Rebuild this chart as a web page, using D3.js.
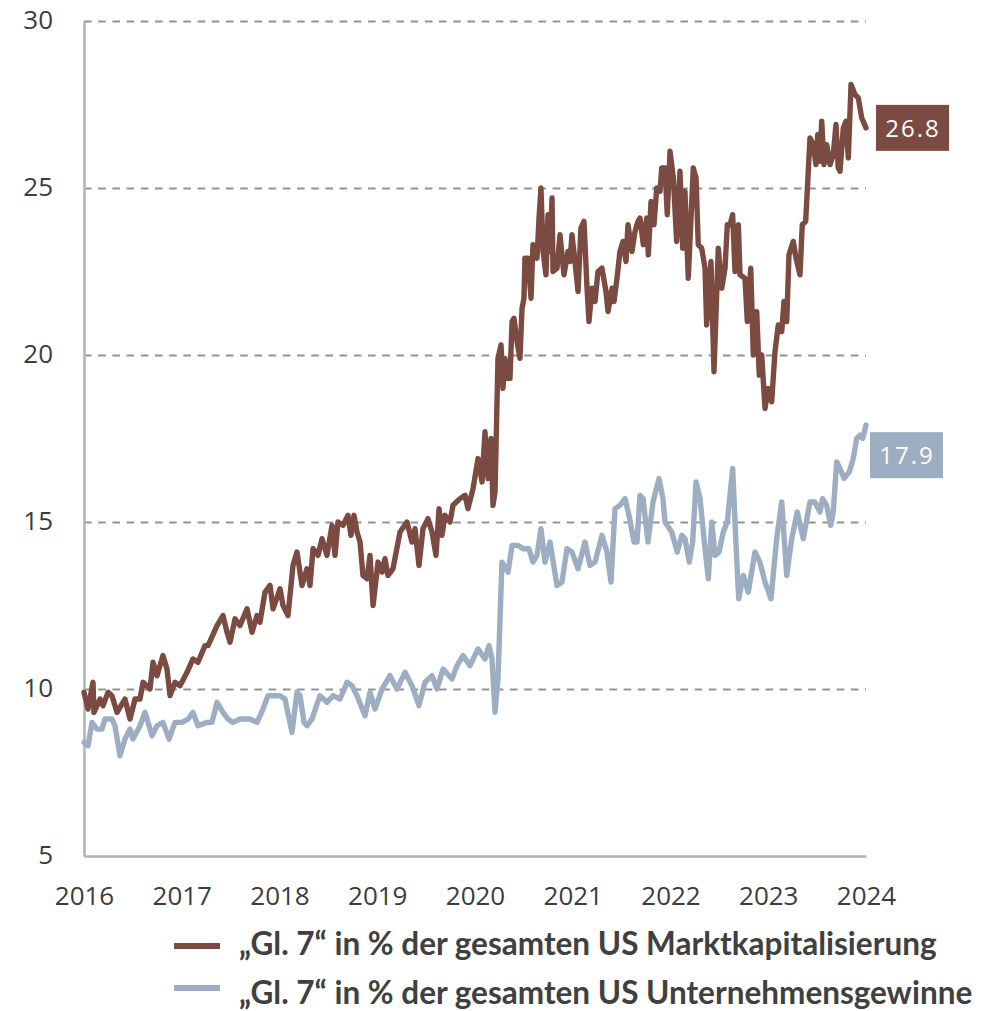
<!DOCTYPE html>
<html>
<head>
<meta charset="utf-8">
<script src="https://cdn.jsdelivr.net/npm/d3@7"></script>
<style>
  body { margin: 0; background: #fff; }
  svg { display: block; font-family: "Open Sans", sans-serif; }
  .axis text { fill: #3c3c3c; font-size: 26px; font-family: "Open Sans", sans-serif; }
  .axis .domain { stroke: #b3b3b3; stroke-width: 2.5px; }
  .grid line { stroke: #939393; stroke-width: 2.2px; stroke-dasharray: 7.6,6.6; }
  .grid .domain { display: none; }
  .legend text { fill: #404040; font-size: 31.5px; font-weight: 700; font-family: Lato, sans-serif; }
</style>
</head>
<body>
<div id="chart"></div>
<script>
// "Gl. 7" share of total US market cap, [decimal year, %]
var marketCap = [
  [2016.000, 9.9], [2016.041, 9.4], [2016.092, 10.2], [2016.102, 9.3], [2016.164, 9.7],
  [2016.194, 9.5], [2016.246, 9.9], [2016.286, 9.8], [2016.338, 9.3], [2016.419, 9.7],
  [2016.471, 9.1], [2016.522, 9.7], [2016.573, 9.7], [2016.604, 10.2], [2016.675, 10.0],
  [2016.706, 10.8], [2016.747, 10.4], [2016.808, 11.0], [2016.849, 10.6], [2016.880, 9.8],
  [2016.931, 10.2], [2016.982, 10.1], [2017.054, 10.5], [2017.115, 10.9], [2017.166, 10.8],
  [2017.238, 11.3], [2017.269, 11.3], [2017.361, 11.9], [2017.422, 12.2], [2017.463, 11.7],
  [2017.494, 11.4], [2017.545, 12.1], [2017.596, 11.9], [2017.668, 12.4], [2017.719, 11.7],
  [2017.770, 12.2], [2017.800, 12.0], [2017.852, 12.9], [2017.903, 13.1], [2017.934, 12.4],
  [2018.005, 13.0], [2018.036, 12.5], [2018.087, 12.2], [2018.138, 13.7], [2018.179, 14.1],
  [2018.230, 13.1], [2018.281, 13.6], [2018.312, 13.1], [2018.343, 14.2], [2018.394, 14.0],
  [2018.435, 14.5], [2018.486, 14.0], [2018.537, 14.9], [2018.568, 14.0], [2018.598, 15.0],
  [2018.650, 14.9], [2018.701, 15.2], [2018.731, 14.6], [2018.762, 15.2], [2018.793, 14.7],
  [2018.824, 14.4], [2018.854, 13.4], [2018.895, 13.3], [2018.926, 14.0], [2018.957, 12.5],
  [2019.008, 13.8], [2019.049, 13.5], [2019.079, 13.9], [2019.110, 13.4], [2019.161, 13.6],
  [2019.233, 14.7], [2019.304, 15.0], [2019.355, 14.4], [2019.386, 14.8], [2019.427, 13.7],
  [2019.468, 14.8], [2019.519, 15.1], [2019.560, 14.7], [2019.601, 14.0], [2019.632, 15.4],
  [2019.662, 14.6], [2019.693, 15.2], [2019.744, 15.0], [2019.775, 15.5], [2019.847, 15.7],
  [2019.898, 15.8], [2019.928, 15.4], [2019.980, 16.0], [2020.031, 16.9], [2020.072, 16.2],
  [2020.102, 17.7], [2020.133, 16.3], [2020.164, 17.5], [2020.184, 15.5], [2020.205, 15.9],
  [2020.235, 19.9], [2020.266, 20.3], [2020.286, 19.0], [2020.307, 19.9], [2020.327, 19.3],
  [2020.358, 19.3], [2020.379, 21.0], [2020.399, 21.1], [2020.430, 20.4], [2020.460, 19.9],
  [2020.481, 21.4], [2020.501, 21.7], [2020.511, 22.9], [2020.542, 22.9], [2020.573, 21.7],
  [2020.593, 23.3], [2020.634, 22.9], [2020.655, 24.1], [2020.675, 25.0], [2020.696, 23.1],
  [2020.726, 22.4], [2020.747, 24.2], [2020.767, 23.1], [2020.788, 24.7], [2020.798, 22.5],
  [2020.839, 22.6], [2020.870, 23.6], [2020.910, 22.4], [2020.951, 23.1], [2020.972, 22.8],
  [2020.992, 23.6], [2021.023, 22.8], [2021.054, 21.9], [2021.084, 23.8], [2021.115, 24.0],
  [2021.146, 22.0], [2021.166, 21.0], [2021.197, 22.0], [2021.228, 21.6], [2021.258, 22.5],
  [2021.299, 22.6], [2021.340, 21.9], [2021.361, 21.3], [2021.402, 22.0], [2021.422, 21.6],
  [2021.453, 22.3], [2021.483, 23.1], [2021.514, 23.4], [2021.545, 22.8], [2021.565, 23.9],
  [2021.606, 23.1], [2021.637, 23.7], [2021.668, 24.0], [2021.688, 24.1], [2021.722, 23.3],
  [2021.757, 24.1], [2021.773, 23.0], [2021.801, 24.6], [2021.831, 23.9], [2021.859, 25.0],
  [2021.893, 24.9], [2021.910, 25.6], [2021.944, 25.6], [2021.967, 24.2], [2021.995, 26.1],
  [2022.029, 25.3], [2022.063, 23.4], [2022.097, 25.5], [2022.125, 23.2], [2022.148, 24.9],
  [2022.182, 22.3], [2022.233, 25.6], [2022.261, 25.3], [2022.284, 23.3], [2022.319, 23.2],
  [2022.353, 22.6], [2022.370, 20.9], [2022.414, 22.8], [2022.445, 19.5], [2022.489, 23.2],
  [2022.524, 22.0], [2022.558, 22.6], [2022.581, 23.9], [2022.609, 23.9], [2022.636, 24.2],
  [2022.660, 22.5], [2022.694, 23.9], [2022.711, 22.4], [2022.762, 22.3], [2022.786, 21.0],
  [2022.821, 22.6], [2022.847, 20.0], [2022.882, 21.3], [2022.908, 19.4], [2022.933, 20.0],
  [2022.967, 18.4], [2023.000, 19.0], [2023.035, 18.6], [2023.069, 20.1], [2023.103, 20.9],
  [2023.138, 20.7], [2023.161, 21.6], [2023.189, 21.0], [2023.212, 23.0], [2023.256, 23.4],
  [2023.284, 22.9], [2023.325, 22.4], [2023.348, 23.9], [2023.383, 24.0], [2023.427, 26.5],
  [2023.461, 26.3], [2023.488, 25.7], [2023.506, 26.6], [2023.529, 25.8], [2023.547, 27.0],
  [2023.570, 25.7], [2023.598, 26.3], [2023.632, 25.7], [2023.665, 26.0], [2023.693, 26.9],
  [2023.716, 25.6], [2023.734, 25.5], [2023.768, 26.8], [2023.795, 27.0], [2023.819, 25.9],
  [2023.847, 28.1], [2023.887, 27.8], [2023.921, 27.7], [2023.956, 27.1], [2024.000, 26.8]
];

// "Gl. 7" share of total US corporate profits, [decimal year, %]
var profits = [
  [2016.000, 8.4], [2016.041, 8.3], [2016.082, 9.0], [2016.133, 8.8], [2016.184, 8.8],
  [2016.215, 9.1], [2016.286, 9.1], [2016.317, 8.9], [2016.368, 8.0], [2016.419, 8.5],
  [2016.471, 8.8], [2016.501, 8.5], [2016.573, 8.9], [2016.624, 9.3], [2016.696, 8.6],
  [2016.747, 8.9], [2016.808, 9.0], [2016.870, 8.5], [2016.931, 9.0], [2017.003, 9.0],
  [2017.064, 9.1], [2017.115, 9.3], [2017.166, 8.9], [2017.258, 9.0], [2017.309, 9.0],
  [2017.361, 9.6], [2017.422, 9.3], [2017.473, 9.1], [2017.524, 9.0], [2017.596, 9.1],
  [2017.647, 9.1], [2017.698, 9.1], [2017.770, 9.0], [2017.831, 9.4], [2017.882, 9.8],
  [2017.934, 9.8], [2018.005, 9.8], [2018.056, 9.7], [2018.128, 8.7], [2018.179, 9.9],
  [2018.210, 9.8], [2018.251, 9.0], [2018.281, 8.9], [2018.332, 9.1], [2018.414, 9.8],
  [2018.486, 9.6], [2018.547, 9.8], [2018.619, 9.7], [2018.691, 10.2], [2018.742, 10.1],
  [2018.793, 9.8], [2018.875, 9.2], [2018.926, 9.9], [2018.977, 9.4], [2019.049, 10.0],
  [2019.130, 10.4], [2019.202, 10.0], [2019.284, 10.5], [2019.355, 10.1], [2019.427, 9.5],
  [2019.488, 10.2], [2019.560, 10.4], [2019.611, 10.0], [2019.673, 10.6], [2019.765, 10.3],
  [2019.816, 10.7], [2019.877, 11.0], [2019.949, 10.7], [2020.031, 11.2], [2020.102, 10.9],
  [2020.143, 11.3], [2020.174, 10.9], [2020.205, 9.3], [2020.235, 10.3], [2020.276, 13.8],
  [2020.338, 13.5], [2020.379, 14.3], [2020.440, 14.3], [2020.491, 14.2], [2020.552, 14.2],
  [2020.593, 13.8], [2020.634, 14.0], [2020.675, 14.8], [2020.716, 13.8], [2020.767, 14.4],
  [2020.839, 13.1], [2020.890, 13.2], [2020.941, 14.2], [2020.992, 14.1], [2021.054, 13.6],
  [2021.125, 14.4], [2021.176, 13.7], [2021.228, 13.8], [2021.299, 14.6], [2021.350, 14.1],
  [2021.391, 13.2], [2021.432, 15.4], [2021.483, 15.5], [2021.535, 15.7], [2021.575, 15.2],
  [2021.627, 14.4], [2021.657, 14.4], [2021.688, 15.8], [2021.719, 15.7], [2021.770, 14.4],
  [2021.821, 15.6], [2021.882, 16.3], [2021.923, 15.7], [2021.944, 15.0], [2022.012, 14.7],
  [2022.069, 14.1], [2022.115, 14.6], [2022.148, 14.5], [2022.192, 13.8], [2022.227, 14.4],
  [2022.261, 16.2], [2022.302, 15.7], [2022.353, 14.2], [2022.387, 13.3], [2022.422, 15.0],
  [2022.455, 14.0], [2022.496, 14.1], [2022.540, 14.7], [2022.581, 15.0], [2022.636, 16.6],
  [2022.677, 13.9], [2022.698, 12.7], [2022.745, 13.4], [2022.796, 12.9], [2022.864, 14.1],
  [2022.915, 13.8], [2022.967, 13.2], [2023.028, 12.7], [2023.086, 14.5], [2023.138, 15.6],
  [2023.189, 13.4], [2023.240, 14.5], [2023.297, 15.3], [2023.358, 14.5], [2023.427, 15.6],
  [2023.476, 15.6], [2023.529, 15.3], [2023.556, 15.7], [2023.597, 15.5], [2023.639, 14.9],
  [2023.665, 15.3], [2023.700, 16.8], [2023.734, 16.6], [2023.775, 16.3], [2023.829, 16.5],
  [2023.870, 16.9], [2023.905, 17.5], [2023.939, 17.6], [2023.967, 17.5], [2024.000, 17.9]
];

var xTicks = [2016, 2017, 2018, 2019, 2020, 2021, 2022, 2023, 2024];
var yTicks = [5, 10, 15, 20, 25, 30];
var gridTicks = [10, 15, 20, 25, 30];

var seriesNames = [
  "\u201EGl. 7\u201C in % der gesamten US Marktkapitalisierung",
  "\u201EGl. 7\u201C in % der gesamten US Unternehmensgewinne"
];
var colors = ["#7b4a41", "#9daec3"];
var endLabels = ["26.8", "17.9"];

var width = 995, height = 1011;
var margin = {top: 21, right: 129, bottom: 155, left: 84};
var graphWidth = width - margin.left - margin.right;
var graphHeight = height - margin.top - margin.bottom;

var svg = d3.select("#chart")
  .append("svg")
  .attr("width", width)
  .attr("height", height);

var g = svg.append("g")
  .attr("transform", "translate(" + margin.left + "," + margin.top + ")");

var x = d3.scaleLinear().domain([2016, 2024]).range([0, graphWidth]);
var y = d3.scaleLinear().domain([5, 30]).range([graphHeight, 0]);

// dashed gridlines
g.append("g")
  .attr("class", "grid")
  .call(d3.axisLeft(y).tickValues(gridTicks).tickSize(-graphWidth).tickFormat(""));

// y axis
g.append("g")
  .attr("class", "axis yAxis")
  .call(d3.axisLeft(y).tickValues(yTicks).tickSize(0).tickSizeOuter(0).tickPadding(31))
  .selectAll("text")
    .attr("dy", "0.28em")
    .style("text-anchor", "end");

// x axis
g.append("g")
  .attr("class", "axis xAxis")
  .attr("transform", "translate(0," + graphHeight + ")")
  .call(d3.axisBottom(x).tickValues(xTicks).tickSize(0).tickSizeOuter(0)
    .tickPadding(31).tickFormat(d3.format("d")));

var line = d3.line()
  .x(d => x(d[0]))
  .y(d => y(d[1]));

// lines
[profits, marketCap].forEach(function(data, i) {
  g.append("path")
    .datum(data)
    .attr("fill", "none")
    .attr("stroke", colors[1 - i])
    .attr("stroke-width", 5.4)
    .attr("stroke-linejoin", "round")
    .attr("stroke-linecap", "round")
    .attr("d", line);
});

// end value boxes
var lastPoints = [marketCap[marketCap.length - 1], profits[profits.length - 1]];
var boxOffsetX = [10, 4], boxOffsetY = [0, 30];
lastPoints.forEach(function(p, i) {
  var bx = x(p[0]) + boxOffsetX[i];
  var by = y(p[1]) + boxOffsetY[i];
  g.append("rect")
    .attr("x", bx)
    .attr("y", by - 23)
    .attr("width", 73)
    .attr("height", 46)
    .attr("fill", colors[i]);
  g.append("text")
    .attr("x", bx + 37)
    .attr("y", by)
    .attr("dy", "0.36em")
    .attr("text-anchor", "middle")
    .attr("fill", "#fff")
    .style("font-size", "24px")
    .style("font-family", "'Open Sans', sans-serif")
    .style("letter-spacing", "2px")
    .text(endLabels[i]);
});

// legend
var legend = svg.append("g").attr("class", "legend");
var swatchY = [946, 988], textY = [954.5, 1003.5];
seriesNames.forEach(function(name, i) {
  legend.append("line")
    .attr("x1", 174).attr("x2", 220)
    .attr("y1", swatchY[i]).attr("y2", swatchY[i])
    .attr("stroke", colors[i])
    .attr("stroke-width", 6);
  legend.append("text")
    .attr("x", 239)
    .attr("y", textY[i])
    .text(name);
});
</script>
</body>
</html>
